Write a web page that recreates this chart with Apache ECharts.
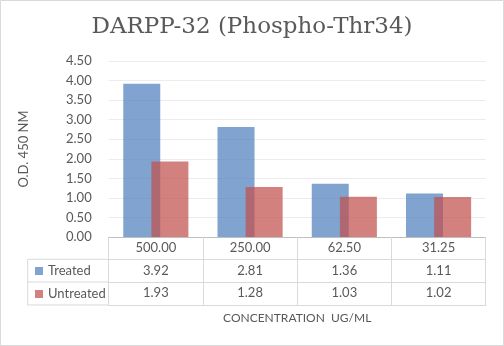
<!DOCTYPE html>
<html><head><meta charset="utf-8">
<script src="https://cdn.jsdelivr.net/npm/echarts@6/dist/echarts.min.js"></script>
<style>html,body{margin:0;padding:0;background:#fff}#c{width:504px;height:346px}</style>
</head><body><div id="c"></div>
<script>
const titleText = 'DARPP-32 (Phospho-Thr34)';
const categories = ['500.00', '250.00', '62.50', '31.25'];
const treated = [3.92, 2.81, 1.36, 1.11];
const untreated = [1.93, 1.28, 1.03, 1.02];
const seriesNames = ['Treated', 'Untreated'];
const yTicks = {min: 0, max: 4.5, interval: 0.5};

const grey = '#595959', lineC = '#d9d9d9';
const font = 'Lato';
const chart = echarts.init(document.getElementById('c'), null, {renderer: 'canvas'});
const tableAxis = (vals, offset, showLabels) => ({
  type: 'category', data: categories, position: 'bottom', offset: offset, gridIndex: 0,
  axisLine: {show: true, lineStyle: {color: lineC, width: 1}},
  axisTick: {show: false},
  axisLabel: {show: showLabels, margin: 11, verticalAlign: 'middle', color: grey, fontSize: 13, fontFamily: font,
    formatter: (v, i) => vals ? vals[i].toFixed(2) : v},
  splitLine: {show: false}
});
const lastAxis = tableAxis(null, 68.3, false);
lastAxis.name = 'CONCENTRATION  UG/ML';
lastAxis.nameLocation = 'middle';
lastAxis.nameGap = 13;
lastAxis.nameTextStyle = {color: grey, fontSize: 12, fontFamily: font, verticalAlign: 'middle'};

chart.setOption({
  animation: false,
  title: {text: titleText, left: 'center', top: 11, padding: [5, 14, 5, 0],
    textStyle: {color: grey, fontSize: 23, fontWeight: 'normal', fontFamily: 'DejaVu Serif'}},
  grid: {left: 108.7, right: 18.3, top: 61, bottom: 109, containLabel: false},
  legend: {orient: 'vertical', left: 30, top: 259, itemWidth: 8, itemHeight: 8, itemGap: 9,
    icon: 'rect', data: seriesNames,
    textStyle: {color: grey, fontSize: 13, fontFamily: font, lineHeight: 14}},
  xAxis: [
    {type: 'category', data: categories, position: 'bottom', gridIndex: 0,
     axisLine: {show: true, lineStyle: {color: '#bfbfbf', width: 1}},
     axisTick: {show: true, interval: 0, length: 68.3, lineStyle: {color: lineC}},
     axisLabel: {margin: 11, verticalAlign: 'middle', color: grey, fontSize: 13, fontFamily: font}},
    tableAxis(treated, 22.6, true),
    tableAxis(untreated, 45.3, true),
    lastAxis
  ],
  yAxis: {type: 'value', min: yTicks.min, max: yTicks.max, interval: yTicks.interval,
    name: 'O.D. 450 NM', nameLocation: 'middle', nameGap: 78, nameRotate: 90,
    nameTextStyle: {color: grey, fontSize: 13, fontFamily: font},
    axisLine: {show: false}, axisTick: {show: false},
    axisLabel: {margin: 17, color: grey, fontSize: 13, fontFamily: font, formatter: v => v.toFixed(2)},
    splitLine: {lineStyle: {color: '#ececec', width: 1}}},
  series: [
    {name: seriesNames[0], type: 'bar', data: treated, xAxisIndex: 0, barWidth: 37, barGap: '-24%',
     itemStyle: {color: '#4F81BD', opacity: 0.72}},
    {name: seriesNames[1], type: 'bar', data: untreated, xAxisIndex: 0, barWidth: 37, barGap: '-24%',
     itemStyle: {color: '#C0504D', opacity: 0.72}}
  ],
  graphic: [
    {type: 'rect', shape: {x: 0.5, y: 0.5, width: 503, height: 345}, style: {fill: null, stroke: lineC, lineWidth: 1}, silent: true},
    {type: 'line', shape: {x1: 27.7, y1: 259.3, x2: 108.7, y2: 259.3}, style: {stroke: lineC, lineWidth: 1}},
    {type: 'line', shape: {x1: 27.7, y1: 282, x2: 108.7, y2: 282}, style: {stroke: lineC, lineWidth: 1}},
    {type: 'line', shape: {x1: 27.7, y1: 305, x2: 108.7, y2: 305}, style: {stroke: lineC, lineWidth: 1}},
    {type: 'line', shape: {x1: 27.7, y1: 259.3, x2: 27.7, y2: 305}, style: {stroke: lineC, lineWidth: 1}}
  ]
});
</script></body></html>
